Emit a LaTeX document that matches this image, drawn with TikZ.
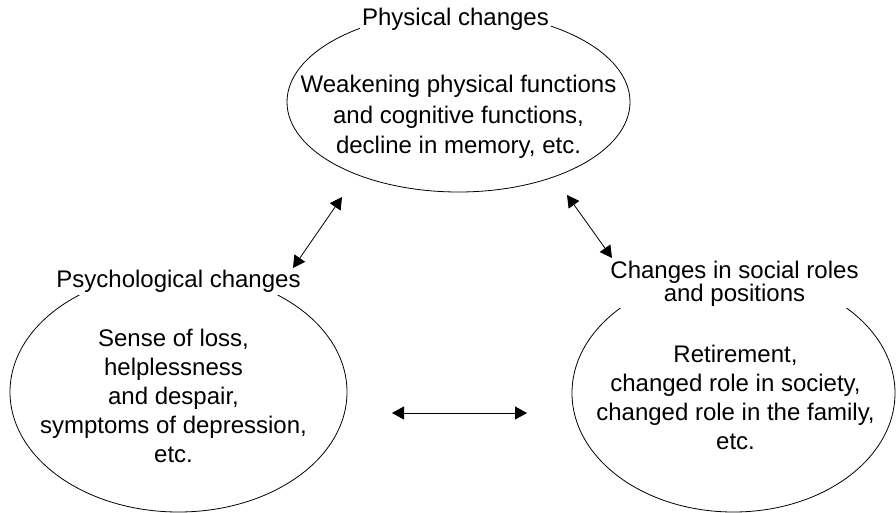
\documentclass[tikz,border=0pt]{standalone}
\usepackage{fontspec}
\setmainfont{Liberation Sans}
\usetikzlibrary{arrows.meta,positioning,shapes.geometric,calc}

\begin{document}
\begin{tikzpicture}[
  x=1pt,y=-1pt,
  change/.style={
    draw,
    ellipse,
    line width=0.8pt,
    inner sep=0pt
  },
  heading/.style={
    fill=white,
    inner sep=2pt,
    align=center,
    font=\fontsize{24}{22}\selectfont
  },
  detail/.style={
    align=center,
    font=\fontsize{24}{29}\selectfont
  },
  arrow/.style={{Triangle[length=12pt,width=13pt]}-{Triangle[length=12pt,width=13pt]},line width=0.8pt}
]
  \useasboundingbox (0,0) rectangle (896,513);
  % the three groups of changes
  \node[change,minimum width=343pt,minimum height=180pt] (physical) at (458.5,102) {};
  \node[change,minimum width=337pt,minimum height=240pt] (psychological) at (178.5,392) {};
  \node[change,minimum width=323pt,minimum height=238pt] (social) at (733.5,393) {};

  \node[heading] (physicalhead) at ([xshift=-3pt,yshift=-8pt]physical.north) {Physical changes};
  \node[heading] (psychologicalhead) at ([yshift=-10pt]psychological.north) {Psychological changes};
  \node[heading] (socialhead) at ([xshift=1pt,yshift=-10pt]social.north)
    {Changes in social roles\\and positions};

  \node[detail,font=\fontsize{24}{30.5}\selectfont] (physicaltext) at ([yshift=-15pt]physical.center)
    {Weakening physical functions\\and cognitive functions,\\decline in memory, etc.};
  \node[detail] (psychologicaltext) at ([xshift=-5pt,yshift=-4pt]psychological.center)
    {Sense of loss,\\helplessness\\and despair,\\symptoms of depression,\\etc.};
  \node[detail] (socialtext) at ([xshift=2pt,yshift=-4pt]social.center)
    {Retirement,\\changed role in society,\\changed role in the family,\\etc.};

  % arrow ends
  \coordinate (physicalleft) at (342,197);
  \coordinate (psychologicaltop) at (293,268);
  \coordinate (physicalright) at (567,195);
  \coordinate (socialtop) at (612,258);
  \coordinate (psychologicalright) at (392,413);
  \coordinate (socialleft) at (527,413);
  \draw[arrow] (physicalleft) -- (psychologicaltop);
  \draw[arrow] (physicalright) -- (socialtop);
  \draw[arrow] (psychologicalright) -- (socialleft);
\end{tikzpicture}
\end{document}
